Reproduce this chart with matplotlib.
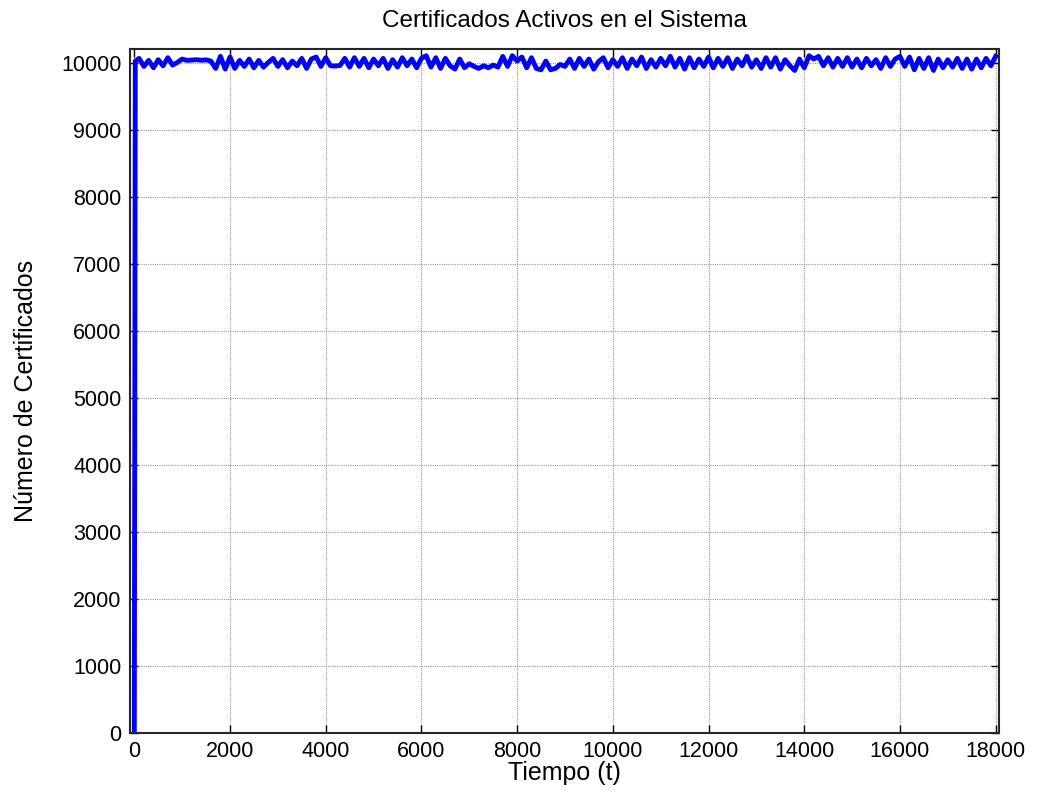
import numpy as np
import matplotlib
matplotlib.use("Agg")
import matplotlib.pyplot as plt

plt.rcParams['font.family'] = ['Liberation Sans', 'DejaVu Sans']

# Data
t_start = [0, 20]
v_start = [0, 10030]
t_step = 100
t_end = 18000
values = [
    10070, 9950, 10040, 9930, 10050, 9960, 10080, 9970, 10010, 10060,
    10040, 10045, 10050, 10042, 10048, 10030,
    9920, 10100, 9910, 10090, 9920, 10040,
    9950, 10060, 9930, 10040, 9940, 10010, 10070, 9950,
    10050, 9930, 10030, 9960, 10070, 9920, 10060, 10090, 9950, 10080,
    9960, 9955, 9965,
    10070, 9940, 10080, 9950, 10070, 9930, 10060,
    9960, 10070, 9920, 10050, 9940, 10080, 9960, 10060, 9930, 10070,
    10110, 9940, 10080, 9920, 10070, 9960, 9910, 10060, 9930, 9990,
    9950, 9920, 9960, 9930, 9970, 9940,
    10100, 9950, 10110, 10030,
    10090, 9930, 10080, 9920, 9900, 10030, 9900, 9920, 9980, 9950,
    10060, 9920, 10070, 9950, 10060, 9910, 10020, 10080, 9930, 10050,
    9950, 10080, 9920, 10060, 9960, 10090, 9920, 10050, 9940, 10070,
    9960, 10100, 9940, 10070, 9910, 10080, 9930, 10060, 9950, 10090,
    9930, 10070, 9950, 10080, 9920, 10060, 9960, 10100, 9940, 10050,
    9920, 10080, 9940, 10080, 9910, 10050, 9960, 9890, 10060, 9930,
    10110, 10060, 10100, 9960, 10080, 9940, 10070, 9950, 10080, 9940,
    10060, 9930, 10070, 9960, 10050, 9920, 10080, 9950, 10060, 10100,
    9950, 10090, 9900, 10070, 9920, 10080, 9890, 10060, 9930, 10050,
    9940, 10070, 9920, 10060, 9910, 10060, 9930, 10070, 9960, 10100,
]
x_ticks = list(range(0, 18001, 2000))
y_ticks = list(range(0, 10001, 1000))

t = np.concatenate([t_start, np.arange(t_step, t_end + 1, t_step)])
v = np.concatenate([v_start, values])

fig = plt.figure(figsize=(10.43, 8.07), dpi=100)
ax = fig.add_axes([130/1043, 1 - 733/807, 869/1043, 684/807])

ax.plot(t, v, color='#0000ff', linewidth=3.5, solid_joinstyle='round')

ax.set_xlim(-90, 18070)
ax.set_ylim(0, 10210)
ax.set_xticks(x_ticks)
ax.set_yticks(y_ticks)
ax.grid(True, color='#9a9a9a', linestyle=(0, (1, 1)), linewidth=0.8)
ax.tick_params(direction='in', length=6, width=1, top=True, right=True,
               labelsize=15.5, pad=6)
for s in ax.spines.values():
    s.set_linewidth(1.5)
    s.set_color('#262626')

ax.set_title('Certificados Activos en el Sistema', fontsize=17.5, pad=16)
ax.set_xlabel('Tiempo (t)', fontsize=18, labelpad=-1)
ax.set_ylabel('Número de Certificados', fontsize=18, labelpad=17)

fig.savefig('out.png', dpi=100, facecolor='white')
